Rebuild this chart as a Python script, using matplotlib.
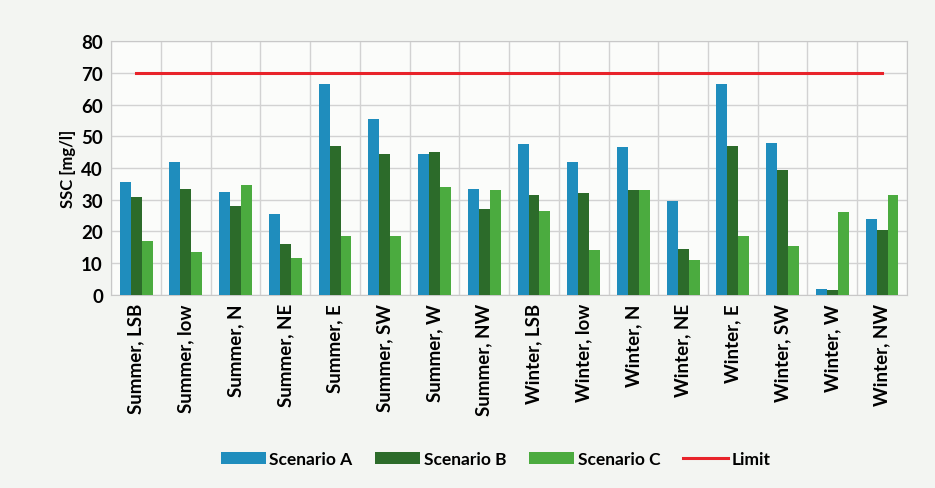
import numpy as np
import matplotlib
matplotlib.use("Agg")
import matplotlib.pyplot as plt

plt.rcParams["font.family"] = ["Lato", "DejaVu Sans"]

categories = ["Summer, LSB", "Summer, low", "Summer, N", "Summer, NE", "Summer, E",
              "Summer, SW", "Summer, W", "Summer, NW", "Winter, LSB", "Winter, low",
              "Winter, N", "Winter, NE", "Winter, E", "Winter, SW", "Winter, W", "Winter, NW"]
scenario_a = [35.5, 42, 32.5, 25.5, 66.5, 55.5, 44.5, 33.5, 47.5, 42, 46.5, 29.5, 66.5, 48, 2, 24]
scenario_b = [31, 33.5, 28, 16, 47, 44.5, 45, 27, 31.5, 32, 33, 14.5, 47, 39.5, 1.5, 20.5]
scenario_c = [17, 13.5, 34.5, 11.5, 18.5, 18.5, 34, 33, 26.5, 14, 33, 11, 18.5, 15.5, 26, 31.5]
limit = [70] * len(categories)

x = np.arange(len(categories))
w = 0.22

fig = plt.figure(figsize=(9.35, 4.89), dpi=100, facecolor="#f3f5f2")
ax = fig.add_axes([0.119, 0.395, 0.851, 0.519], facecolor="#fbfcfa")

ax.bar(x - w, scenario_a, w, color="#1f8dbd", label="Scenario A", zorder=3)
ax.bar(x, scenario_b, w, color="#2c6b2a", label="Scenario B", zorder=3)
ax.bar(x + w, scenario_c, w, color="#4bab3f", label="Scenario C", zorder=3)
ax.plot(x, limit, color="#e8232a", lw=2.2, label="Limit", zorder=4)

ax.set_xlim(-0.5, len(categories) - 0.5)
ax.set_ylim(0, 80)
ax.set_yticks(range(0, 81, 10))
ax.set_xticks(x)
ax.set_xticklabels(categories, rotation=90, fontsize=13.5, fontweight="bold")
ax.set_xticks(np.arange(-0.5, len(categories), 1), minor=True)
for lab in ax.get_yticklabels():
    lab.set_fontweight("bold")
    lab.set_fontsize(13.5)
ax.tick_params(axis="both", length=0, pad=6)
ax.tick_params(axis="x", which="minor", length=0)
ax.grid(axis="y", color="#d2d2d2", lw=1, zorder=0)
ax.grid(axis="x", which="minor", color="#d2d2d2", lw=1, zorder=0)
ax.set_ylabel("SSC [mg/l]", fontsize=12, fontweight="bold", labelpad=4)
for s in ax.spines.values():
    s.set_edgecolor("#c8c8c8")

handles, labels = ax.get_legend_handles_labels()
order = [1, 2, 3, 0]
fig.legend([handles[i] for i in order], [labels[i] for i in order],
           loc="lower center", bbox_to_anchor=(0.53, 0.01), ncol=4, frameon=False,
           prop={"weight": "bold", "size": 12.5}, handlelength=2.6, handletextpad=0.2,
           columnspacing=1.3)

fig.savefig("out.png", dpi=100, facecolor=fig.get_facecolor())
